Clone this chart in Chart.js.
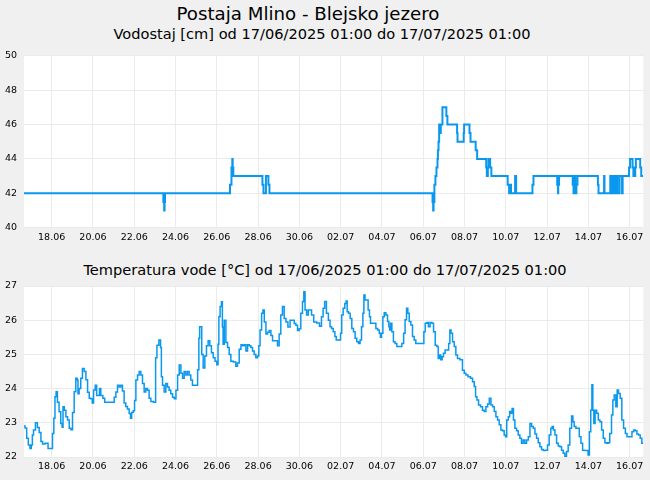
<!DOCTYPE html>
<html>
<head>
<meta charset="utf-8">
<script src="https://cdn.jsdelivr.net/npm/chart.js@4.4.1/dist/chart.umd.min.js"></script>
<style>
  body { margin: 0; background: #f0f0f0; width: 650px; height: 480px; overflow: hidden; font-family: "DejaVu Sans", sans-serif; position: relative; }
  .naslov { position: absolute; white-space: nowrap; color: #000; transform: translateX(-50%); }
  #glavni { left: 308px; top: 4.6px; font-size: 18.2px; line-height: 18px; }
  #pod1 { left: 322px; top: 26.6px; font-size: 14.6px; line-height: 14.6px; }
  #pod2 { left: 325px; top: 263px; font-size: 14.6px; line-height: 14.6px; }
  canvas { position: absolute; left: 0; }
  #graf1 { top: 0; }
  #graf2 { top: 250px; }
</style>
</head>
<body>
<div class="naslov" id="glavni">Postaja Mlino - Blejsko jezero</div>
<div class="naslov" id="pod1">Vodostaj [cm] od 17/06/2025 01:00 do 17/07/2025 01:00</div>
<div class="naslov" id="pod2">Temperatura vode [°C] od 17/06/2025 01:00 do 17/07/2025 01:00</div>
<canvas id="graf1" width="650" height="250"></canvas>
<canvas id="graf2" width="650" height="230"></canvas>
<script>
// oznake na osi x (dnevi od začetka obdobja)
const oznakeDni = [1.34, 3.34, 5.34, 7.34, 9.34, 11.34, 13.34, 15.34, 17.34, 19.34, 21.34, 23.34, 25.34, 27.34, 29.34];
const oznake = ['18.06', '20.06', '22.06', '24.06', '26.06', '28.06', '30.06', '02.07', '04.07', '06.07', '08.07', '10.07', '12.07', '14.07', '16.07'];

// vodostaj [cm] - točke spremembe
const vodostajDni = [0, 6.75, 6.79, 6.81, 6.83, 9.98, 10.05, 10.09, 10.11, 10.14, 11.55, 11.60, 11.72, 11.84, 11.89,
  19.79, 19.82, 19.84, 19.88, 19.93, 19.98, 20.03, 20.05, 20.08, 20.11, 20.16, 20.19, 20.27, 20.46, 20.51,
  20.98, 21.00, 21.30, 21.32, 21.58, 21.63, 21.88, 21.95, 22.39, 22.42, 22.47, 22.50, 22.58, 22.64,
  23.43, 23.50, 23.56, 23.59, 23.79, 23.84, 24.63, 24.68, 25.83, 25.87, 25.88, 25.92,
  26.58, 26.62, 26.65, 26.71, 26.76, 26.81, 27.80, 27.83, 28.10, 28.12, 28.40, 28.43, 28.52, 28.55,
  28.62, 28.65, 28.72, 28.75, 28.85, 28.97, 29.00, 29.31, 29.36, 29.48, 29.52, 29.61, 29.64, 29.85, 29.90, 30.00];
const vodostaj = [42, 41.5, 41, 41.5, 42, 42.5, 43.5, 44, 43.5, 43, 42.5, 42, 43, 42.5, 42,
  41.5, 41, 41.5, 42.5, 43, 43.5, 44, 44.5, 45, 46, 45.5, 46, 47, 46.5, 46,
  45.5, 45, 45.5, 46, 45.5, 45, 44.5, 44, 43.5, 43, 43.5, 44, 43.5, 43,
  42.5, 42, 42.5, 42, 43, 42, 42.5, 43, 42.5, 42, 42.5, 43,
  42.5, 42, 43, 42, 42.5, 43, 42.5, 42, 43, 42, 43, 42, 43, 42,
  43, 42, 43, 42, 43, 42, 43, 43.5, 44, 43.5, 43, 43.5, 44, 43.5, 43, 43];

// temperatura vode [°C]
const temperaturaDni = [0.00, 0.10, 0.16, 0.26, 0.32, 0.39, 0.42, 0.50, 0.61, 0.69, 0.78, 0.86, 0.94, 1.10, 1.23, 1.34,
  1.42, 1.47, 1.53, 1.58, 1.66, 1.74, 1.82, 1.87, 1.91, 1.99, 2.07, 2.15, 2.23, 2.31, 2.39, 2.47, 2.55, 2.60, 2.63,
  2.71, 2.79, 2.87, 2.96, 3.04, 3.12, 3.20, 3.28, 3.33, 3.41, 3.49, 3.55, 3.63, 3.68, 3.76, 3.88, 3.94, 4.33, 4.41,
  4.49, 4.57, 4.65, 4.73, 4.81, 4.89, 4.97, 5.05, 5.14, 5.18, 5.25, 5.33, 5.38, 5.46, 5.54, 5.62, 5.70, 5.78, 5.86,
  5.94, 6.02, 6.10, 6.19, 6.35, 6.40, 6.48, 6.59, 6.64, 6.67, 6.75, 6.83, 6.91, 6.99, 7.07, 7.15, 7.24, 7.32, 7.40,
  7.48, 7.56, 7.64, 7.72, 7.80, 7.88, 7.96, 8.04, 8.12, 8.20, 8.37, 8.45, 8.49, 8.53, 8.58, 8.64, 8.72, 8.80, 8.88,
  8.96, 9.04, 9.12, 9.21, 9.30, 9.38, 9.42, 9.46, 9.54, 9.59, 9.63, 9.66, 9.74, 9.82, 9.90, 9.98, 10.06, 10.22,
  10.30, 10.38, 10.47, 10.55, 10.63, 10.71, 10.79, 10.87, 10.95, 11.03, 11.11, 11.19, 11.27, 11.35, 11.40, 11.47,
  11.55, 11.60, 11.68, 11.76, 11.84, 11.92, 12.00, 12.08, 12.24, 12.32, 12.40, 12.48, 12.56, 12.65, 12.73, 12.84,
  12.94, 13.05, 13.13, 13.21, 13.29, 13.37, 13.45, 13.53, 13.58, 13.65, 13.73, 13.81, 13.89, 13.97, 14.10, 14.26,
  14.37, 14.45, 14.53, 14.60, 14.70, 14.79, 14.86, 14.94, 15.02, 15.10, 15.15, 15.31, 15.36, 15.42, 15.50, 15.58,
  15.63, 15.68, 15.76, 15.84, 15.92, 16.00, 16.08, 16.16, 16.25, 16.31, 16.39, 16.44, 16.49, 16.55, 16.63, 16.71,
  16.76, 16.81, 17.00, 17.09, 17.17, 17.25, 17.28, 17.36, 17.41, 17.49, 17.57, 17.65, 17.70, 17.73, 17.78, 17.86,
  17.93, 18.02, 18.10, 18.26, 18.35, 18.43, 18.49, 18.57, 18.62, 18.70, 18.78, 18.86, 18.94, 19.02, 19.35, 19.39,
  19.48, 19.56, 19.62, 19.72, 19.80, 19.88, 19.96, 20.04, 20.09, 20.15, 20.23, 20.28, 20.36, 20.44, 20.53, 20.61,
  20.65, 20.72, 20.80, 20.88, 20.96, 21.04, 21.20, 21.28, 21.37, 21.45, 21.57, 21.69, 21.77, 21.85, 21.90, 21.98,
  22.06, 22.17, 22.25, 22.33, 22.42, 22.50, 22.58, 22.66, 22.74, 22.82, 22.90, 22.98, 23.06, 23.14, 23.22, 23.30,
  23.35, 23.42, 23.50, 23.55, 23.61, 23.68, 23.74, 23.82, 23.90, 23.98, 24.06, 24.14, 24.22, 24.30, 24.39, 24.47,
  24.55, 24.63, 24.71, 24.79, 24.87, 24.95, 25.03, 25.11, 25.19, 25.32, 25.40, 25.48, 25.56, 25.61, 25.68, 25.76,
  25.84, 25.92, 26.00, 26.08, 26.16, 26.24, 26.32, 26.40, 26.48, 26.57, 26.61, 26.69, 26.78, 26.86, 26.94, 27.02,
  27.10, 27.18, 27.29, 27.36, 27.42, 27.49, 27.53, 27.58, 27.63, 27.70, 27.78, 27.86, 27.94, 28.02, 28.10, 28.18,
  28.26, 28.33, 28.42, 28.50, 28.55, 28.63, 28.71, 28.76, 28.84, 28.92, 29.00, 29.09, 29.17, 29.25, 29.41, 29.49,
  29.57, 29.65, 29.73, 29.81, 29.89, 29.97, 30.00];
const temperatura = [22.91, 22.85, 22.55, 22.35, 22.25, 22.35, 22.64, 22.79, 23.00, 22.86, 22.72, 22.45, 22.38, 22.40, 22.25, 22.25,
  22.69, 23.13, 23.76, 23.91, 23.60, 23.32, 22.98, 22.87, 23.47, 23.37, 23.18, 23.08, 22.84, 22.80, 23.30, 23.91, 24.30, 24.25, 23.85,
  24.00, 24.30, 24.59, 24.50, 24.26, 23.89, 23.72, 23.70, 23.58, 23.96, 24.10, 23.80, 23.80, 24.00, 23.80, 23.72, 23.60, 23.60, 23.75,
  23.90, 24.10, 24.05, 24.10, 23.93, 23.58, 23.48, 23.40, 23.27, 23.13, 23.30, 23.35, 23.65, 24.25, 24.40, 24.50, 24.40, 24.15, 23.90,
  24.00, 23.95, 23.72, 23.62, 23.60, 24.90, 25.27, 25.42, 25.20, 24.35, 24.10, 23.90, 24.15, 24.05, 23.95, 23.85, 23.75, 23.70, 23.95,
  24.40, 24.69, 24.45, 24.30, 24.50, 24.40, 24.50, 24.40, 24.25, 24.10, 24.10, 24.55, 25.47, 25.81, 25.81, 25.00, 24.60, 24.95, 25.25,
  25.40, 25.25, 25.05, 24.90, 24.80, 24.70, 25.30, 26.10, 26.40, 26.54, 25.80, 25.30, 26.00, 25.35, 25.20, 25.00, 24.80, 24.78,
  24.65, 24.75, 25.15, 25.28, 25.25, 25.28, 25.10, 25.28, 25.25, 25.20, 25.10, 25.00, 24.90, 24.95, 25.25, 25.71,
  26.20, 26.30, 25.95, 25.60, 25.65, 25.70, 25.55, 25.40, 25.40, 25.25, 25.60, 26.15, 26.40, 26.05, 25.95, 25.80,
  26.00, 26.00, 25.90, 25.85, 25.70, 25.75, 26.20, 26.55, 26.83, 26.30, 26.15, 26.30, 26.30, 26.15, 25.95, 25.92,
  25.82, 26.10, 26.35, 26.55, 26.20, 26.00, 25.81, 25.76, 25.66, 25.52, 25.42, 25.42, 25.62, 26.15, 26.35, 26.49,
  26.56, 26.25, 26.20, 26.05, 25.76, 25.66, 25.47, 25.37, 25.32, 25.42, 25.81, 26.20, 26.74, 26.59, 26.59, 26.30,
  26.10, 25.91, 25.91, 25.76, 25.71, 25.62, 25.50, 25.62, 26.10, 26.22, 26.15, 25.96, 25.81, 25.71, 25.91, 25.66,
  25.37, 25.32, 25.23, 25.23, 25.32, 25.62, 26.01, 26.35, 26.20, 25.96, 25.86, 25.52, 25.42, 25.32, 25.32, 25.66,
  25.91, 25.93, 25.81, 25.93, 25.91, 25.66, 25.27, 25.23, 24.88, 24.98, 24.84, 24.93, 25.03, 25.13, 25.13, 25.32,
  25.71, 25.62, 25.37, 25.23, 24.98, 24.88, 24.84, 24.54, 24.45, 24.40, 24.35, 24.30, 24.20, 24.06, 23.76, 23.67,
  23.52, 23.47, 23.37, 23.33, 23.47, 23.55, 23.72, 23.52, 23.47, 23.33, 23.18, 23.08, 22.94, 22.79, 22.77, 22.64,
  22.59, 23.08, 23.18, 23.33, 23.28, 23.42, 23.08, 22.84, 22.77, 22.64, 22.55, 22.40, 22.50, 22.40, 22.50, 22.59,
  22.98, 22.89, 22.84, 22.67, 22.55, 22.42, 22.30, 22.22, 22.19, 22.20, 22.35, 22.64, 22.84, 22.89, 22.79, 22.64,
  22.40, 22.32, 22.30, 22.20, 22.11, 22.01, 22.16, 22.35, 22.84, 23.20, 23.03, 22.89, 22.84, 22.84, 22.59, 22.40,
  22.20, 22.19, 22.19, 22.06, 22.74, 23.37, 24.11, 23.37, 22.98, 23.37, 23.28, 23.08, 23.03, 22.79, 22.55, 22.42,
  22.40, 22.42, 22.69, 23.23, 23.67, 23.81, 23.47, 23.96, 23.86, 23.72, 23.08, 22.84, 22.69, 22.59, 22.59, 22.74,
  22.79, 22.77, 22.67, 22.64, 22.55, 22.40, 22.40];

Chart.defaults.font.family = '"DejaVu Sans", sans-serif';
Chart.defaults.font.size = 9.5;
Chart.defaults.color = '#000';

// bela podlaga za območje grafa
const belaPodlaga = {
  id: 'belaPodlaga',
  beforeDraw(chart) {
    const a = chart.chartArea;
    chart.ctx.save();
    chart.ctx.fillStyle = '#ffffff';
    chart.ctx.fillRect(a.left, a.top, a.right - a.left, a.bottom - a.top);
    chart.ctx.restore();
  }
};

function tocke(dni, vrednosti) {
  return dni.map(function (d, i) { return { x: d, y: vrednosti[i] }; });
}

function narisiGraf(platno, podatki, debelina, stopnicasto, yMin, yMax, korak, vrh, spodaj) {
  return new Chart(document.getElementById(platno), {
    type: 'line',
    data: {
      datasets: [{
        data: podatki,
        borderColor: '#0a98ee',
        borderWidth: debelina,
        pointRadius: 0,
        stepped: stopnicasto,
        tension: 0,
        fill: false
      }]
    },
    options: {
      responsive: false,
      animation: false,
      layout: { padding: { top: vrh, left: 0, right: 6.7, bottom: spodaj } },
      plugins: { legend: { display: false }, tooltip: { enabled: false }, title: { display: false } },
      scales: {
        x: {
          type: 'linear',
          min: 0,
          max: 30,
          afterBuildTicks: function (os) { os.ticks = oznakeDni.map(function (v) { return { value: v }; }); },
          afterFit: function (os) { os.height = 22; },
          ticks: {
            autoSkip: false,
            maxRotation: 0,
            padding: 4,
            callback: function (v, i) { return oznake[i]; }
          },
          grid: { color: '#ebebeb', drawTicks: false },
          border: { display: false }
        },
        y: {
          min: yMin,
          max: yMax,
          afterFit: function (os) { os.width = 24; },
          ticks: { stepSize: korak, padding: 7 },
          grid: { color: '#ebebeb', drawTicks: false },
          border: { display: false }
        }
      }
    },
    plugins: [belaPodlaga]
  });
}

narisiGraf('graf1', tocke(vodostajDni, vodostaj), 2, true, 40, 50, 2, 55.7, 0.3);
narisiGraf('graf2', tocke(temperaturaDni, temperatura), 1.5, 'middle', 22, 27, 1, 36, 1);
</script>
</body>
</html>
